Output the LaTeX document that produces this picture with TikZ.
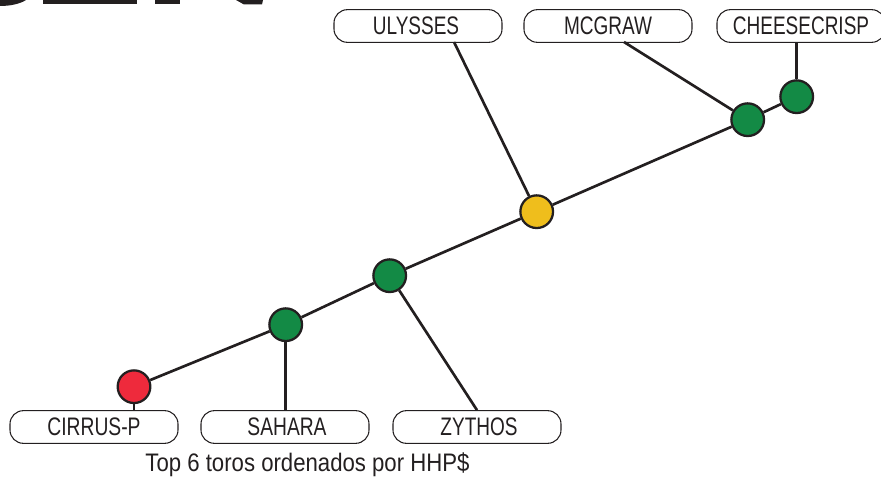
\documentclass[tikz,border=0pt]{standalone}
\usepackage{fontspec}
\setmainfont{Liberation Sans}
\definecolor{inkc}{HTML}{231F20}
\definecolor{gr}{HTML}{138A45}
\definecolor{ye}{HTML}{EFBE1C}
\definecolor{re}{HTML}{EE2A3C}
\tikzset{
 x=0.75pt,y=-0.75pt,
 lab/.style={draw=inkc,line width=0.8pt,rounded corners=10pt,minimum width=126pt,minimum height=24.5pt,inner sep=0pt,text=inkc,font=\fontsize{19}{21}\selectfont},
 dot/.style={circle,draw=inkc,line width=1.7pt,minimum size=24.5pt,inner sep=0pt},
 edge/.style={draw=inkc,line width=2pt},
}
\begin{document}
\begin{tikzpicture}
\useasboundingbox (0,0) rectangle (881,477);
\fill[inkc] (0,0) -- (26,0) .. controls (20,4) and (10,6) .. (0,6) -- cycle;
\fill[inkc] (43,0) rectangle (137,4.5);
\fill[inkc] (155,0) rectangle (180,4.5);
\fill[inkc] (236,0) -- (263,0) -- (262,4.5) -- (244,4.5) -- cycle;
\node[dot,fill=gr] (g1) at (796.7,96.7) {};
\node[dot,fill=gr] (g2) at (747.7,119.7) {};
\node[dot,fill=ye] (y) at (536.7,211.7) {};
\node[dot,fill=gr] (g3) at (389.7,275.7) {};
\node[dot,fill=gr] (g4) at (285.7,324.7) {};
\node[dot,fill=re] (r) at (134,386.7) {};
\node[lab] (uly) at (418,26) {\hspace{-3pt}\scalebox{.75}[1]{ULYSSES}};
\node[lab] (mcg) at (608,26) {\scalebox{.75}[1]{MCGRAW}};
\node[lab] (che) at (801,26) {\scalebox{.75}[1]{CHEESECRISP}};
\node[lab] (cir) at (94,427) {\scalebox{.76}[1]{CIRRUS-P}};
\node[lab] (sah) at (285,427) {\hspace{3pt}\scalebox{.76}[1]{SAHARA}};
\node[lab] (zyt) at (477,427) {\hspace{3pt}\scalebox{.75}[1]{ZYTHOS}};
\coordinate (ue) at (454,42);
\coordinate (me) at (624,42);
\draw[edge] (g1 |- che.south) -- (g1);
\draw[edge] (g1) -- (g2);
\draw[edge] (g2) -- (y);
\draw[edge] (y) -- (g3);
\draw[edge] (g3) -- (g4);
\draw[edge] (g4) -- (r);
\draw[edge] (r) -- (r |- cir.north);
\draw[edge] (g4 |- sah.north) -- (g4);
\draw[edge] (g3) -- (zyt.north);
\draw[edge] (ue) -- (y);
\draw[edge] (me) -- (g2);
\node[text=inkc,font=\fontsize{19}{21}\selectfont] (cap) at (307.5,465) {\scalebox{.875}[1]{Top 6 toros ordenados por HHP\$}};
\end{tikzpicture}
\end{document}
